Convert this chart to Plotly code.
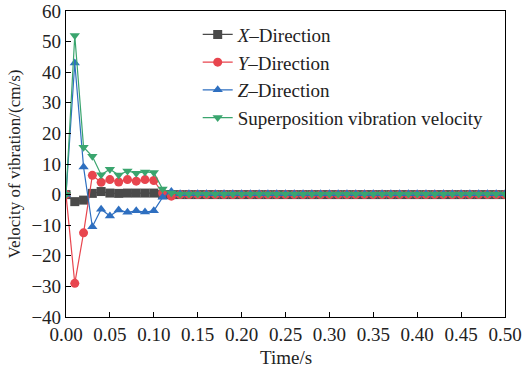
import plotly.graph_objects as go

time = [round(i * 0.01, 2) for i in range(51)]

x_dir = [0, -2.3, -1.8, 0.4, 1.0, 0.5, 0.4, 0.5, 0.5, 0.5, 0.5, 0.0, 0.0] + [0.0] * 38
y_dir = [0, -29, -12.5, 6.3, 4.0, 4.9, 4.1, 4.9, 4.4, 4.9, 4.6, 0.5, -0.5] + [0.0] * 38
z_dir = [0, 43, 9, -10.5, -4.8, -7.0, -5.0, -5.8, -5.3, -5.7, -5.3, -0.9, 1.0] + [0.3] * 38
superpos = [0, 52, 15.5, 12.5, 6.5, 8.3, 6.4, 7.7, 7.0, 7.4, 7.2, 1.8, 0.5] + [0.2] * 38

series = [
    ("<i>X</i>–Direction", x_dir, "#4a4a4a", "square"),
    ("<i>Y</i>–Direction", y_dir, "#e8454e", "circle"),
    ("<i>Z</i>–Direction", z_dir, "#2e6fc0", "triangle-up"),
    ("Superposition vibration velocity", superpos, "#3aa56e", "triangle-down"),
]

fig = go.Figure()
for name, vals, color, sym in series:
    fig.add_trace(go.Scatter(
        x=time, y=vals, name=name, mode="lines+markers",
        line=dict(color=color, width=1.2),
        marker=dict(symbol=sym, size=9, color=color),
    ))

font = "Liberation Serif"
fig.update_layout(
    width=522, height=369,
    margin=dict(l=66, r=17, t=11, b=52),
    plot_bgcolor="white", paper_bgcolor="white",
    font=dict(family=font, size=18, color="#222"),
    showlegend=True,
    legend=dict(x=0.3, y=0.985, xanchor="left", yanchor="top",
                bgcolor="rgba(0,0,0,0)", font=dict(size=19, family=font),
                tracegroupgap=0, itemwidth=30),
    xaxis=dict(range=[0, 0.5], dtick=0.05, tickformat=".2f",
               showline=True, linecolor="black", linewidth=1.2, mirror=True,
               ticks="inside", ticklen=5, tickcolor="black", showgrid=False,
               zeroline=False, automargin=False,
               tickfont=dict(family=font, size=19)),
    yaxis=dict(range=[-40, 60], dtick=10,
               showline=True, linecolor="black", linewidth=1.2, mirror=True,
               ticks="inside", ticklen=5, tickcolor="black", showgrid=False,
               zeroline=False, automargin=False,
               tickfont=dict(family=font, size=19),
               title=dict(text="Velocity of vibration/(cm/s)", standoff=6,
                          font=dict(family=font, size=17))),
    annotations=[dict(text="Time/s", xref="paper", yref="paper",
                      x=0.5, y=-0.133, xanchor="center", yanchor="middle",
                      showarrow=False, font=dict(family=font, size=19, color="#222"))],
)

fig.write_html("out.html")
